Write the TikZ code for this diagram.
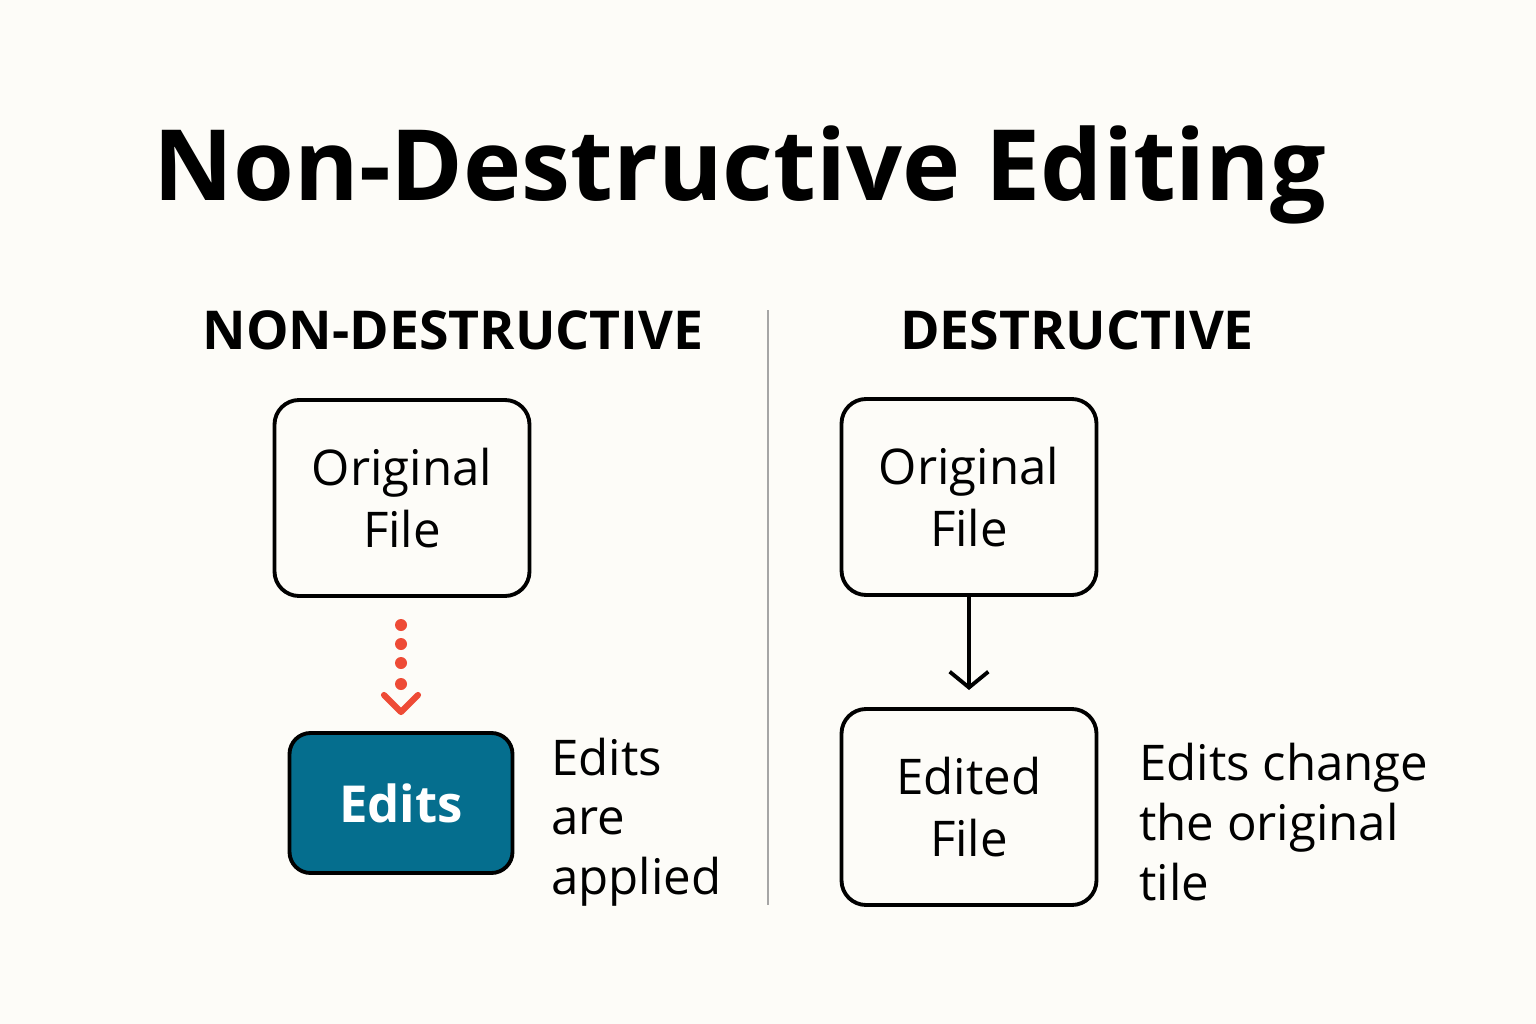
\documentclass[tikz,border=0pt]{standalone}
\usepackage{fontspec}
\setmainfont{Open Sans}
\usetikzlibrary{arrows.meta}
\definecolor{bg}{HTML}{FDFCF8}
\definecolor{teal}{HTML}{056E8E}
\definecolor{dotred}{HTML}{EE4B36}
\begin{document}
\begin{tikzpicture}[x=0.02cm,y=-0.02cm,
 box/.style={draw,line width=2.2pt,rounded corners=14pt,minimum width=255*0.02cm,minimum height=196*0.02cm,align=center,font=\fontsize{28}{35}\selectfont},
 side/.style={anchor=west,align=left,font=\fontsize{28}{34}\selectfont}]
\fill[bg] (0,0) rectangle (1536,1024);
\useasboundingbox (0,0) rectangle (1536,1024);
\node[font=\fontsize{56}{60}\selectfont\bfseries] (title) at (740,175) {Non-Destructive Editing};
\node[font=\fontsize{30.5}{34}\selectfont\bfseries] (h1) at (453,330) {NON-DESTRUCTIVE};
\node[font=\fontsize{30.5}{34}\selectfont\bfseries] (h2) at (1077,330) {DESTRUCTIVE};
\coordinate (dt) at (768,310); \coordinate (db) at (768,905);
\draw[line width=0.8pt,gray!70] (dt) -- (db);
\node[box] (o1) at (402,498) {Original\\File};
\node[box,fill=teal,text=white,minimum width=223*0.02cm,minimum height=140*0.02cm,rounded corners=12pt,font=\fontsize{29}{38}\selectfont\bfseries] (ed) at (401,803) {Edits};
\node[box] (o2) at (969,497) {Original\\File};
\node[box] (e2) at (969,807) {Edited\\File};
\coordinate (a1) at (969,690);
\draw[line width=2.2pt,-{Straight Barb[length=9pt,width=22pt]}] (o2) -- (a1);
\foreach \y in {625,644,663,684} \fill[dotred] (401,\y) circle (6);
\draw[dotred,line width=3.5pt,line cap=round,line join=round] (384,695) -- (401,712) -- (418,695);
\node[side] (t1) at (545,822) {Edits\\are\\applied};
\node[side] (t2) at (1133,822) {Edits change\\the original\\tile};
\end{tikzpicture}
\end{document}
